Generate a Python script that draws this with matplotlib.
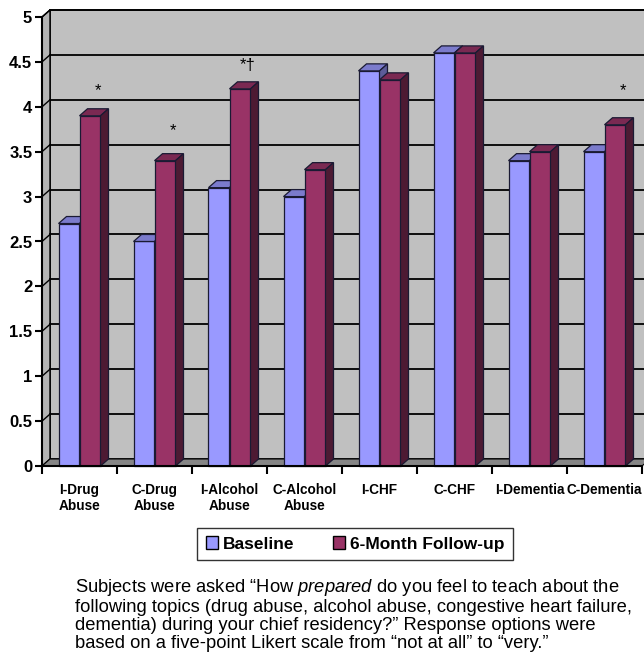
import matplotlib
matplotlib.use("Agg")
import matplotlib.pyplot as plt
from matplotlib.patches import Polygon, Patch
import numpy as np

plt.rcParams['font.family'] = ['Liberation Sans', 'DejaVu Sans']
plt.rcParams['mathtext.fontset'] = 'custom'
plt.rcParams['mathtext.rm'] = 'Liberation Sans'
plt.rcParams['mathtext.it'] = 'Liberation Sans:italic'

categories = ["I-Drug\nAbuse", "C-Drug\nAbuse", "I-Alcohol\nAbuse", "C-Alcohol\nAbuse",
              "I-CHF", "C-CHF", "I-Dementia", "C-Dementia"]
baseline = [2.7, 2.5, 3.1, 3.0, 4.4, 4.6, 3.4, 3.5]
followup = [3.9, 3.4, 4.2, 3.3, 4.3, 4.6, 3.5, 3.8]
series_names = ["Baseline", "6-Month Follow-up"]
# significance marks: (category index, label, height)
marks = [(0, "*", 4.18), (1, "*", 3.74), (2, "*\u2020", 4.46), (7, "*", 4.18)]
yticks = np.arange(0, 5.01, 0.5)

caption = ("Subjects were asked \u201cHow $\\it{prepared}$ do you feel to teach about the\n"
           "following topics (drug abuse, alcohol abuse, congestive heart failure,\n"
           "dementia) during your chief residency?\u201d Response options were\n"
           "based on a five-point Likert scale from \u201cnot at all\u201d to \u201cvery.\u201d")

# colours: front, top, side
blue = ("#9999ff", "#7b7bcc", "#5c5c99")
plum = ("#993366", "#7a2952", "#4d1a33")

W, H = 644, 658
fig = plt.figure(figsize=(W / 100, H / 100), dpi=100)
ax = fig.add_axes([42 / W, (H - 466) / H, 600 / W, (466 - 17) / H])
ax.set_xlim(0, 8)
ax.set_ylim(0, 5)

dx, dy = 8 / 75, 7 / 89.6  # depth offset in data units
n = len(categories)

# back wall, side wall, floor
ax.add_patch(Polygon([(dx, dy), (n + dx, dy), (n + dx, 5 + dy), (dx, 5 + dy)],
                     facecolor="#c0c0c0", edgecolor="black", lw=1.2, clip_on=False, zorder=0))
ax.add_patch(Polygon([(0, 0), (dx, dy), (dx, 5 + dy), (0, 5)],
                     facecolor="#b4b4b4", edgecolor="black", lw=1.0, clip_on=False, zorder=0))
ax.add_patch(Polygon([(0, 0), (n, 0), (n + dx, dy), (dx, dy)],
                     facecolor="#858585", edgecolor="black", lw=0.8, clip_on=False, zorder=0.5))
for v in yticks[1:]:
    ax.plot([dx, n + dx], [v + dy, v + dy], color="black", lw=1.3, clip_on=False, zorder=0.6)
    ax.plot([0, dx], [v, v + dy], color="black", lw=1.0, clip_on=False, zorder=0.6)

w = 0.28
x = np.arange(n) + 0.5


def bars3d(lefts, heights, cols, z):
    ax.bar(lefts, heights, width=w, align="edge", color=cols[0], edgecolor="#1a1a33",
           lw=0.9, zorder=z, clip_on=False)
    for x0, h in zip(lefts, heights):
        x1 = x0 + w
        ax.add_patch(Polygon([(x0, h), (x0 + dx, h + dy), (x1 + dx, h + dy), (x1, h)],
                             facecolor=cols[1], edgecolor="#1a1a33", lw=0.9, zorder=z, clip_on=False))
        ax.add_patch(Polygon([(x1, 0), (x1 + dx, dy), (x1 + dx, h + dy), (x1, h)],
                             facecolor=cols[2], edgecolor="#1a1a33", lw=0.9, zorder=z, clip_on=False))


bars3d(x - w, baseline, blue, 2)
bars3d(x, followup, plum, 3)

for i, lab, h in marks:
    ax.text(x[i] + w / 2 + dx, h, lab, ha="center", va="center", fontsize=12, zorder=5)

for s in ["top", "right"]:
    ax.spines[s].set_visible(False)
ax.spines["left"].set_linewidth(1.5)
ax.spines["bottom"].set_linewidth(1.5)
ax.spines["left"].set_zorder(4)
ax.spines["bottom"].set_zorder(4)

ax.set_yticks(yticks)
ax.set_yticklabels([f"{v:g}" for v in yticks], fontsize=12, fontweight="bold")
ax.tick_params(axis="y", length=5, width=1.5, pad=2)
ax.set_xticks(np.arange(n + 1))
ax.set_xticklabels([])
ax.tick_params(axis="x", which="major", length=6, width=1.5)
ax.set_xticks(x, minor=True)
ax.set_xticklabels(categories, minor=True, fontsize=9.8, fontweight="bold", linespacing=1.2)
ax.tick_params(axis="x", which="minor", length=0, pad=12)

handles = [Patch(facecolor=blue[0], edgecolor="black", lw=1),
           Patch(facecolor=plum[0], edgecolor="black", lw=1)]
fig.legend(handles, series_names, loc="center", bbox_to_anchor=(355 / W, 1 - 544 / H),
           ncol=2, frameon=True, fancybox=False, edgecolor="black", handlelength=0.7,
           handleheight=0.7, handletextpad=0.3, columnspacing=2.2,
           prop={"weight": "bold", "size": 12.5}, borderpad=0.5)

fig.text(75 / W, 1 - 577 / H, caption, ha="left", va="top", fontsize=13.2, linespacing=1.08)

fig.savefig("out.png", dpi=100)
